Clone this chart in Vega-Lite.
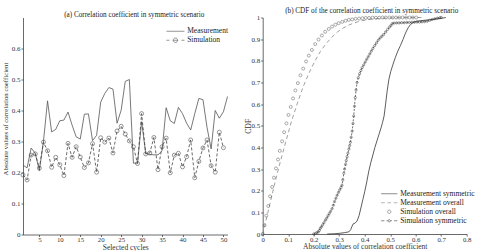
{
  "$schema": "https://vega.github.io/schema/vega-lite/v6.json",
  "background": "white",
  "padding": {"left": 2, "top": 6.5, "right": 0, "bottom": 0},
  "bounds": "flush",
  "spacing": 34.7,
  "config": {
    "font": "Liberation Serif",
    "view": {"stroke": null},
    "axis": {
      "grid": false,
      "domainColor": "#444",
      "domainWidth": 0.8,
      "tickColor": "#444",
      "tickWidth": 0.8,
      "tickSize": 2,
      "labelFont": "Liberation Serif",
      "labelFontSize": 7,
      "labelColor": "#333",
      "labelPadding": 1,
      "labelFlush": false,
      "labelOverlap": false,
      "titleFont": "Liberation Serif",
      "titleFontSize": 7.8,
      "titleFontWeight": "normal",
      "titleColor": "#333",
      "titleBaseline": "middle"
    },
    "axisX": {"labelPadding": 0, "labelFontSize": 6.8, "titleFontSize": 7.5, "titleY": 12.5},
    "title": {"font": "Liberation Serif", "fontSize": 7.2, "fontWeight": "normal", "color": "#222", "offset": -1},
    "legend": {
      "orient": "none",
      "padding": 0,
      "symbolSize": 36,
      "symbolStrokeWidth": 0.8,
      "labelFont": "Liberation Serif",
      "labelFontSize": 7.5,
      "labelColor": "#222",
      "rowPadding": 0
    }
  },
  "resolve": {
    "scale": {"color": "independent", "shape": "independent"},
    "legend": {"color": "independent", "shape": "independent"}
  },
  "datasets": {
    "meas": [
      {"cycle": 1, "value": 0.224}, {"cycle": 2, "value": 0.215}, {"cycle": 3, "value": 0.279}, {"cycle": 4, "value": 0.262},
      {"cycle": 5, "value": 0.206}, {"cycle": 6, "value": 0.300}, {"cycle": 7, "value": 0.431}, {"cycle": 8, "value": 0.331},
      {"cycle": 9, "value": 0.339}, {"cycle": 10, "value": 0.367}, {"cycle": 11, "value": 0.369}, {"cycle": 12, "value": 0.395},
      {"cycle": 13, "value": 0.353}, {"cycle": 14, "value": 0.315}, {"cycle": 15, "value": 0.308}, {"cycle": 16, "value": 0.388},
      {"cycle": 17, "value": 0.389}, {"cycle": 18, "value": 0.303}, {"cycle": 19, "value": 0.320}, {"cycle": 20, "value": 0.427},
      {"cycle": 21, "value": 0.455}, {"cycle": 22, "value": 0.474}, {"cycle": 23, "value": 0.469}, {"cycle": 24, "value": 0.359},
      {"cycle": 25, "value": 0.401}, {"cycle": 26, "value": 0.494}, {"cycle": 27, "value": 0.500}, {"cycle": 28, "value": 0.230},
      {"cycle": 29, "value": 0.230}, {"cycle": 30, "value": 0.364}, {"cycle": 31, "value": 0.262}, {"cycle": 32, "value": 0.258},
      {"cycle": 33, "value": 0.257}, {"cycle": 34, "value": 0.257}, {"cycle": 35, "value": 0.270}, {"cycle": 36, "value": 0.409},
      {"cycle": 37, "value": 0.367}, {"cycle": 38, "value": 0.358}, {"cycle": 39, "value": 0.410}, {"cycle": 40, "value": 0.390},
      {"cycle": 41, "value": 0.359}, {"cycle": 42, "value": 0.337}, {"cycle": 43, "value": 0.390}, {"cycle": 44, "value": 0.439},
      {"cycle": 45, "value": 0.435}, {"cycle": 46, "value": 0.345}, {"cycle": 47, "value": 0.276}, {"cycle": 48, "value": 0.400},
      {"cycle": 49, "value": 0.375}, {"cycle": 50, "value": 0.396}, {"cycle": 51, "value": 0.445}
    ],
    "sim": [
      {"cycle": 1, "value": 0.192}, {"cycle": 2, "value": 0.176}, {"cycle": 3, "value": 0.256}, {"cycle": 4, "value": 0.260},
      {"cycle": 5, "value": 0.214}, {"cycle": 6, "value": 0.298}, {"cycle": 7, "value": 0.270}, {"cycle": 8, "value": 0.217},
      {"cycle": 9, "value": 0.249}, {"cycle": 10, "value": 0.225}, {"cycle": 11, "value": 0.190}, {"cycle": 12, "value": 0.294},
      {"cycle": 13, "value": 0.249}, {"cycle": 14, "value": 0.283}, {"cycle": 15, "value": 0.250}, {"cycle": 16, "value": 0.216},
      {"cycle": 17, "value": 0.231}, {"cycle": 18, "value": 0.293}, {"cycle": 19, "value": 0.201}, {"cycle": 20, "value": 0.312},
      {"cycle": 21, "value": 0.298}, {"cycle": 22, "value": 0.311}, {"cycle": 23, "value": 0.263}, {"cycle": 24, "value": 0.334},
      {"cycle": 25, "value": 0.349}, {"cycle": 26, "value": 0.324}, {"cycle": 27, "value": 0.302}, {"cycle": 28, "value": 0.283},
      {"cycle": 29, "value": 0.229}, {"cycle": 30, "value": 0.390}, {"cycle": 31, "value": 0.260}, {"cycle": 32, "value": 0.263},
      {"cycle": 33, "value": 0.313}, {"cycle": 34, "value": 0.209}, {"cycle": 35, "value": 0.283}, {"cycle": 36, "value": 0.311},
      {"cycle": 37, "value": 0.199}, {"cycle": 38, "value": 0.256}, {"cycle": 39, "value": 0.262}, {"cycle": 40, "value": 0.218},
      {"cycle": 41, "value": 0.251}, {"cycle": 42, "value": 0.305}, {"cycle": 43, "value": 0.183}, {"cycle": 44, "value": 0.236},
      {"cycle": 45, "value": 0.279}, {"cycle": 46, "value": 0.305}, {"cycle": 47, "value": 0.222}, {"cycle": 48, "value": 0.201},
      {"cycle": 49, "value": 0.330}, {"cycle": 50, "value": 0.280}
    ],
    "legendA": [{"series": "Measurement"}, {"series": "Simulation"}],
    "measSym": [
      {"x": 0.253, "p": 0.000}, {"x": 0.280, "p": 0.001}, {"x": 0.300, "p": 0.003}, {"x": 0.320, "p": 0.006},
      {"x": 0.338, "p": 0.010}, {"x": 0.345, "p": 0.020}, {"x": 0.350, "p": 0.035}, {"x": 0.355, "p": 0.047},
      {"x": 0.362, "p": 0.050}, {"x": 0.370, "p": 0.060}, {"x": 0.378, "p": 0.085}, {"x": 0.386, "p": 0.125},
      {"x": 0.393, "p": 0.160}, {"x": 0.400, "p": 0.195}, {"x": 0.408, "p": 0.240}, {"x": 0.416, "p": 0.290},
      {"x": 0.424, "p": 0.330}, {"x": 0.432, "p": 0.365}, {"x": 0.440, "p": 0.400}, {"x": 0.448, "p": 0.430},
      {"x": 0.456, "p": 0.460}, {"x": 0.464, "p": 0.490}, {"x": 0.470, "p": 0.515}, {"x": 0.476, "p": 0.545},
      {"x": 0.482, "p": 0.600}, {"x": 0.488, "p": 0.660}, {"x": 0.495, "p": 0.715}, {"x": 0.502, "p": 0.750},
      {"x": 0.510, "p": 0.780}, {"x": 0.520, "p": 0.815}, {"x": 0.530, "p": 0.845}, {"x": 0.540, "p": 0.870},
      {"x": 0.550, "p": 0.898}, {"x": 0.560, "p": 0.928}, {"x": 0.570, "p": 0.952}, {"x": 0.580, "p": 0.968},
      {"x": 0.590, "p": 0.977}, {"x": 0.600, "p": 0.982}, {"x": 0.625, "p": 0.986}, {"x": 0.652, "p": 0.989},
      {"x": 0.680, "p": 0.993}, {"x": 0.700, "p": 0.996}, {"x": 0.718, "p": 1.000}
    ],
    "measAll": [
      {"x": 0.000, "p": 0.000}, {"x": 0.023, "p": 0.113}, {"x": 0.045, "p": 0.223}, {"x": 0.068, "p": 0.329},
      {"x": 0.091, "p": 0.428}, {"x": 0.113, "p": 0.521}, {"x": 0.136, "p": 0.604}, {"x": 0.158, "p": 0.678},
      {"x": 0.181, "p": 0.742}, {"x": 0.204, "p": 0.797}, {"x": 0.226, "p": 0.843}, {"x": 0.249, "p": 0.880},
      {"x": 0.272, "p": 0.910}, {"x": 0.294, "p": 0.934}, {"x": 0.317, "p": 0.952}, {"x": 0.339, "p": 0.966},
      {"x": 0.362, "p": 0.976}, {"x": 0.385, "p": 0.984}, {"x": 0.407, "p": 0.989}, {"x": 0.430, "p": 0.993},
      {"x": 0.453, "p": 0.995}, {"x": 0.498, "p": 0.998}, {"x": 0.566, "p": 1.000}, {"x": 0.634, "p": 1.000}
    ],
    "simAll": [
      {"x": 0.000, "p": 0.000}, {"x": 0.007, "p": 0.040}, {"x": 0.014, "p": 0.085}, {"x": 0.022, "p": 0.129},
      {"x": 0.029, "p": 0.174}, {"x": 0.037, "p": 0.217}, {"x": 0.044, "p": 0.260}, {"x": 0.052, "p": 0.303},
      {"x": 0.060, "p": 0.344}, {"x": 0.067, "p": 0.384}, {"x": 0.076, "p": 0.428}, {"x": 0.084, "p": 0.470},
      {"x": 0.093, "p": 0.511}, {"x": 0.101, "p": 0.550}, {"x": 0.110, "p": 0.587}, {"x": 0.119, "p": 0.626},
      {"x": 0.128, "p": 0.663}, {"x": 0.138, "p": 0.697}, {"x": 0.148, "p": 0.733}, {"x": 0.159, "p": 0.764},
      {"x": 0.170, "p": 0.797}, {"x": 0.181, "p": 0.824}, {"x": 0.193, "p": 0.850}, {"x": 0.206, "p": 0.877},
      {"x": 0.219, "p": 0.898}, {"x": 0.232, "p": 0.917}, {"x": 0.245, "p": 0.934}, {"x": 0.259, "p": 0.947},
      {"x": 0.272, "p": 0.958}, {"x": 0.285, "p": 0.967}, {"x": 0.298, "p": 0.974}, {"x": 0.312, "p": 0.980},
      {"x": 0.325, "p": 0.985}, {"x": 0.338, "p": 0.989}, {"x": 0.351, "p": 0.991}, {"x": 0.364, "p": 0.994},
      {"x": 0.378, "p": 0.995}, {"x": 0.391, "p": 0.997}, {"x": 0.404, "p": 0.998}, {"x": 0.417, "p": 0.998},
      {"x": 0.431, "p": 0.999}, {"x": 0.444, "p": 0.999}, {"x": 0.457, "p": 0.999}, {"x": 0.470, "p": 1.000},
      {"x": 0.483, "p": 1.000}, {"x": 0.497, "p": 1.000}, {"x": 0.510, "p": 1.000}, {"x": 0.523, "p": 1.000},
      {"x": 0.536, "p": 1.000}, {"x": 0.549, "p": 1.000}, {"x": 0.563, "p": 1.000}, {"x": 0.576, "p": 1.000},
      {"x": 0.589, "p": 1.000}, {"x": 0.602, "p": 1.000}
    ],
    "simSym": [
      {"x": 0.200, "p": 0.000}, {"x": 0.207, "p": 0.003}, {"x": 0.213, "p": 0.006}, {"x": 0.218, "p": 0.010},
      {"x": 0.222, "p": 0.016}, {"x": 0.226, "p": 0.026}, {"x": 0.230, "p": 0.033}, {"x": 0.235, "p": 0.042},
      {"x": 0.240, "p": 0.052}, {"x": 0.246, "p": 0.064}, {"x": 0.251, "p": 0.073}, {"x": 0.256, "p": 0.084},
      {"x": 0.261, "p": 0.094}, {"x": 0.266, "p": 0.104}, {"x": 0.272, "p": 0.117}, {"x": 0.277, "p": 0.133},
      {"x": 0.282, "p": 0.150}, {"x": 0.287, "p": 0.165}, {"x": 0.292, "p": 0.179}, {"x": 0.297, "p": 0.192},
      {"x": 0.302, "p": 0.204}, {"x": 0.307, "p": 0.215}, {"x": 0.311, "p": 0.225}, {"x": 0.314, "p": 0.250},
      {"x": 0.318, "p": 0.280}, {"x": 0.321, "p": 0.300}, {"x": 0.325, "p": 0.322}, {"x": 0.328, "p": 0.340},
      {"x": 0.331, "p": 0.357}, {"x": 0.334, "p": 0.373}, {"x": 0.338, "p": 0.392}, {"x": 0.341, "p": 0.408},
      {"x": 0.344, "p": 0.424}, {"x": 0.347, "p": 0.447}, {"x": 0.351, "p": 0.475}, {"x": 0.354, "p": 0.510},
      {"x": 0.357, "p": 0.545}, {"x": 0.360, "p": 0.590}, {"x": 0.363, "p": 0.630}, {"x": 0.366, "p": 0.665},
      {"x": 0.370, "p": 0.700}, {"x": 0.375, "p": 0.722}, {"x": 0.380, "p": 0.740}, {"x": 0.385, "p": 0.755},
      {"x": 0.390, "p": 0.768}, {"x": 0.396, "p": 0.781}, {"x": 0.402, "p": 0.794}, {"x": 0.408, "p": 0.807},
      {"x": 0.414, "p": 0.819}, {"x": 0.420, "p": 0.832}, {"x": 0.426, "p": 0.845}, {"x": 0.432, "p": 0.857},
      {"x": 0.439, "p": 0.870}, {"x": 0.446, "p": 0.882}, {"x": 0.453, "p": 0.895}, {"x": 0.460, "p": 0.905},
      {"x": 0.467, "p": 0.913}, {"x": 0.474, "p": 0.921}, {"x": 0.482, "p": 0.933}, {"x": 0.490, "p": 0.945},
      {"x": 0.497, "p": 0.955}, {"x": 0.503, "p": 0.963}, {"x": 0.508, "p": 0.972}, {"x": 0.515, "p": 0.974},
      {"x": 0.525, "p": 0.975}, {"x": 0.535, "p": 0.975}, {"x": 0.545, "p": 0.976}, {"x": 0.555, "p": 0.976},
      {"x": 0.565, "p": 0.977}, {"x": 0.575, "p": 0.977}, {"x": 0.585, "p": 0.978}, {"x": 0.595, "p": 0.978},
      {"x": 0.605, "p": 0.979}, {"x": 0.615, "p": 0.979}, {"x": 0.625, "p": 0.980}, {"x": 0.635, "p": 0.981},
      {"x": 0.645, "p": 0.983}, {"x": 0.655, "p": 0.987}, {"x": 0.665, "p": 0.991}, {"x": 0.675, "p": 0.994},
      {"x": 0.685, "p": 0.997}, {"x": 0.695, "p": 0.999}, {"x": 0.700, "p": 1.000}
    ],
    "legendB": [
      {"series": "Measurement symmetric"}, {"series": "Measurement overall"},
      {"series": "Simulation overall"}, {"series": "Simulation symmetric"}
    ]
  },
  "hconcat": [
    {
      "width": 204.5,
      "height": 217,
      "title": {"text": "(a) Correlation coefficient in symmetric scenario", "dx": 9},
      "encoding": {
        "x": {
          "field": "cycle",
          "type": "quantitative",
          "scale": {"domain": [1, 51], "nice": false, "zero": false},
          "axis": {"values": [5, 10, 15, 20, 25, 30, 35, 40, 45, 50], "title": "Selected cycles"}
        },
        "y": {
          "field": "value",
          "type": "quantitative",
          "scale": {"domain": [0, 0.7], "nice": false},
          "axis": {
            "values": [0, 0.1, 0.2, 0.3, 0.4, 0.5, 0.6],
            "labelExpr": "datum.value == 0 ? '0' : format(datum.value, '.1f')",
            "title": "Absolute values of correlation coefficient",
            "titleFontSize": 6.8,
            "titleX": -17.3,
            "titleY": 101
          }
        }
      },
      "layer": [
        {
          "data": {"name": "meas"},
          "mark": {"type": "line", "color": "#555", "strokeWidth": 0.8}
        },
        {
          "data": {"name": "sim"},
          "mark": {"type": "line", "color": "#444", "strokeWidth": 0.8, "strokeDash": [3, 2]}
        },
        {
          "data": {"name": "sim"},
          "mark": {"type": "point", "shape": "circle", "filled": false, "size": 16, "color": "#444", "strokeWidth": 0.8}
        },
        {
          "data": {"name": "legendA"},
          "transform": [{"filter": "false"}],
          "mark": {"type": "point", "filled": false, "strokeWidth": 0.8},
          "encoding": {
            "x": null,
            "y": null,
            "shape": {
              "field": "series",
              "type": "nominal",
              "title": null,
              "scale": {
                "domain": ["Measurement", "Simulation"],
                "range": [
                  "M-3,0H3",
                  "M-3,0H-2M-0.9,0H0.9M2,0H3M0.73,0A0.73,0.73 0 1,1 -0.73,0A0.73,0.73 0 1,1 0.73,0"
                ]
              },
              "legend": {"legendX": 148.7, "legendY": 10, "labelOffset": 8}
            },
            "color": {
              "field": "series",
              "type": "nominal",
              "title": null,
              "scale": {"domain": ["Measurement", "Simulation"], "range": ["#444", "#444"]},
              "legend": {"legendX": 148.7, "legendY": 10, "labelOffset": 8}
            }
          }
        }
      ]
    },
    {
      "width": 204,
      "height": 216.5,
      "title": {"text": "(b) CDF of the correlation coefficient in symmetric scenario", "dx": 7},
      "encoding": {
        "x": {
          "field": "x",
          "type": "quantitative",
          "scale": {"domain": [0, 0.8], "nice": false},
          "axis": {
            "values": [0, 0.1, 0.2, 0.3, 0.4, 0.5, 0.6, 0.7, 0.8],
            "labelExpr": "datum.value == 0 ? '0' : format(datum.value, '.1f')",
            "title": "Absolute values of correlation coefficient"
          }
        },
        "y": {
          "field": "p",
          "type": "quantitative",
          "scale": {"domain": [0, 1], "nice": false},
          "axis": {
            "values": [0, 0.1, 0.2, 0.3, 0.4, 0.5, 0.6, 0.7, 0.8, 0.9, 1],
            "labelExpr": "datum.value == 0 ? '0' : datum.value == 1 ? '1' : format(datum.value, '.1f')",
            "title": "CDF",
            "titleX": -14
          }
        }
      },
      "layer": [
        {
          "data": {"name": "measSym"},
          "mark": {"type": "line", "color": "#333", "strokeWidth": 0.8}
        },
        {
          "data": {"name": "measAll"},
          "mark": {"type": "line", "color": "#888", "strokeWidth": 0.8, "strokeDash": [4, 3]}
        },
        {
          "data": {"name": "simAll"},
          "mark": {"type": "point", "shape": "circle", "filled": false, "size": 9, "color": "#555", "strokeWidth": 0.7}
        },
        {
          "data": {"name": "simSym"},
          "mark": {"type": "line", "color": "#333", "strokeWidth": 0.7, "strokeDash": [2, 1.5]}
        },
        {
          "data": {"name": "simSym"},
          "mark": {"type": "point", "shape": "circle", "filled": false, "size": 5, "color": "#333", "strokeWidth": 0.7}
        },
        {
          "data": {"name": "legendB"},
          "transform": [{"filter": "false"}],
          "mark": {"type": "point", "filled": false, "strokeWidth": 0.8},
          "encoding": {
            "x": null,
            "y": null,
            "shape": {
              "field": "series",
              "type": "nominal",
              "title": null,
              "scale": {
                "domain": ["Measurement symmetric", "Measurement overall", "Simulation overall", "Simulation symmetric"],
                "range": [
                  "M-2.7,0H2.7",
                  "M-2.7,0H-1.5M-0.6,0H0.6M1.5,0H2.7",
                  "M0.55,0A0.55,0.55 0 1,1 -0.55,0A0.55,0.55 0 1,1 0.55,0",
                  "M-2.7,0H-1.6M-0.9,0H-0.45M0.45,0H0.9M1.6,0H2.7M0.4,0A0.4,0.4 0 1,1 -0.4,0A0.4,0.4 0 1,1 0.4,0"
                ]
              },
              "legend": {"legendX": 122.8, "legendY": 172.5, "labelOffset": 7.2}
            },
            "color": {
              "field": "series",
              "type": "nominal",
              "title": null,
              "scale": {
                "domain": ["Measurement symmetric", "Measurement overall", "Simulation overall", "Simulation symmetric"],
                "range": ["#333", "#777", "#555", "#333"]
              },
              "legend": {"legendX": 122.8, "legendY": 172.5, "labelOffset": 7.2}
            }
          }
        }
      ]
    }
  ]
}
